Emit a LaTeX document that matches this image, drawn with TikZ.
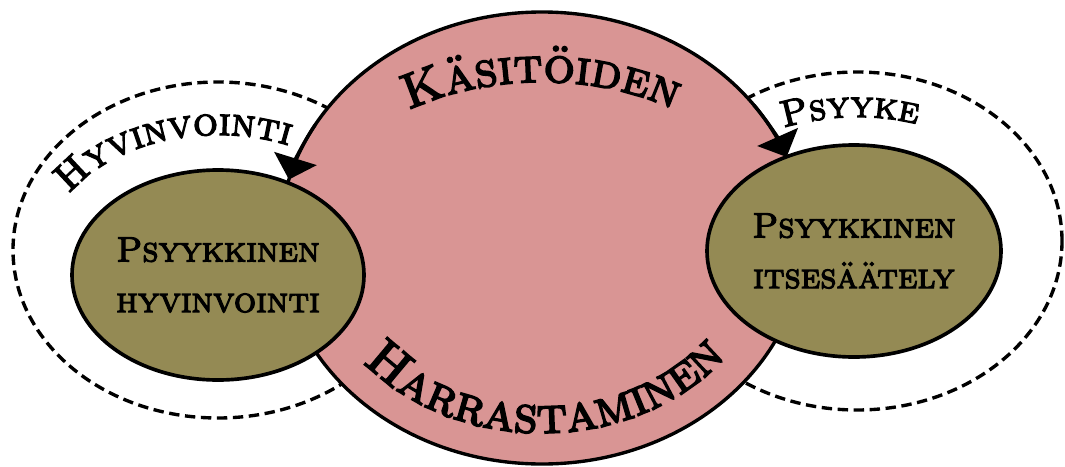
\documentclass[tikz,border=0pt]{standalone}
\usepackage{fontspec}
\newfontfamily\capsfont{lmromancaps10-regular.otf}[FakeBold=3.5]
\usepackage{tikz}
\usetikzlibrary{shapes.geometric, arrows.meta, decorations.text}
\definecolor{rose}{HTML}{D99594}
\definecolor{moss}{HTML}{948A54}
\newcommand{\topcaps}{\capsfont\fontsize{35}{42}\selectfont}
\newcommand{\botcaps}{\capsfont\fontsize{37}{44}\selectfont}
\newcommand{\wellcaps}{\capsfont\fontsize{28}{34}\selectfont}
\newcommand{\psycaps}{\capsfont\fontsize{26.5}{32}\selectfont}

\begin{document}
\begin{tikzpicture}[
	%% Shape styles
	ring/.style={ellipse, draw=black, line width=2.4pt,
		dash pattern=on 0.26cm off 0.14cm, inner sep=0pt},
	craftdisc/.style={ellipse, draw=black, line width=2.4pt, fill=rose,
		inner sep=0pt},
	innerdisc/.style={ellipse, draw=black, line width=2.6pt, fill=moss,
		inner sep=0pt, align=center,
		font=\capsfont\fontsize{25}{36}\selectfont},
	%% Arrow tip sitting on the rim
	rimarr/.style={-{Triangle[length=0.55cm, width=1.1cm]}, line width=2.4pt},
	%% Text set along an arc
	along/.style={decorate, decoration={text along path, text align=left}},
	]
	
	\useasboundingbox (0,0) rectangle (26.625,11.65);
	
	%% ── Dashed rings ─────────────────────────────────────────
	\node[ring, minimum width=10.25cm, minimum height=8.4cm]  (wellring) at (5.45,5.4)    {};
	\node[ring, minimum width=10.25cm, minimum height=8.45cm] (psyring)  at (21.425,5.625) {};
	
	%% ── Central ellipse ──────────────────────────────────────
	\node[craftdisc, minimum width=13.1cm, minimum height=11.3cm] (craft) at (13.55,5.7) {};
	
	%% ── Rim arrows (left: down to wellbeing, right: down to selfreg)
	\draw[rimarr, shift={(craft.center)}]
	(150:6.55cm and 5.65cm) arc[start angle=150, end angle=165, x radius=6.55cm, y radius=5.65cm];
	\draw[rimarr, shift={(craft.center)}]
	(36:6.55cm and 5.65cm) arc[start angle=36, end angle=21, x radius=6.55cm, y radius=5.65cm];
	
	%% ── Inner ellipses ───────────────────────────────────────
	\node[innerdisc, minimum width=7.3cm, minimum height=5.25cm] (wellbeing) at (5.45,4.775)
	{Psyykkinen\\hyvinvointi};
	\node[innerdisc, minimum width=7.35cm, minimum height=5.3cm] (selfreg) at (21.35,5.375)
	{Psyykkinen\\itsesäätely};
	
	%% ── Curved labels ────────────────────────────────────────
	\path[along, decoration={text={|\topcaps|Käsitöiden}}, shift={(craft.center)}]
	(125:5.8cm and 3.9cm) arc[start angle=125, end angle=30, x radius=5.8cm, y radius=3.9cm];
	\path[along, decoration={text={|\botcaps|Harrastaminen}}, shift={(craft.center)}]
	(219.5:5.8cm and 4.875cm) arc[start angle=219.5, end angle=345, x radius=5.8cm, y radius=4.875cm];
	\path[along, decoration={text={|\wellcaps|Hyvinvointi}}, shift={(wellring.center)}]
	(151:4.25cm and 2.875cm) arc[start angle=151, end angle=20, x radius=4.25cm, y radius=2.875cm];
	\path[along, decoration={text={|\psycaps|Psyyke}}, shift={(psyring.center)}]
	(114:4.5cm and 3.1cm) arc[start angle=114, end angle=20, x radius=4.5cm, y radius=3.1cm];
	
\end{tikzpicture}
\end{document}
